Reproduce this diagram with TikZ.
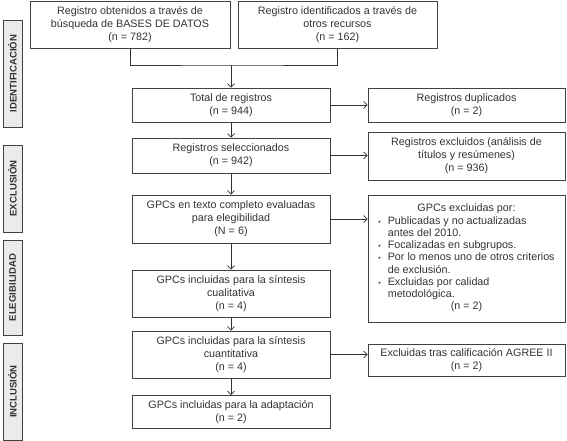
\documentclass[tikz,border=0pt]{standalone}
\usepackage{fontspec}
\setmainfont{Liberation Sans}
\usepackage{tikz}
\usetikzlibrary{arrows.meta}

\begin{document}
\begin{tikzpicture}[x=1bp,y=-1bp,
        caja/.style={draw=black!75, line width=0.7bp, align=center, inner sep=1bp,
            text=black!80, font=\fontsize{10.8}{13}\selectfont, minimum width=198bp},
        fase/.style={draw=black!75, line width=0.7bp, fill=black!8, rotate=90, inner sep=1bp,
            text=black!80, font=\bfseries\fontsize{9.6}{11}\selectfont, minimum height=19bp},
        linea/.style={draw=black!80, line width=0.8bp},
        flecha/.style={linea, -{Straight Barb[length=3.5bp,width=7bp]}}]
        \useasboundingbox (0,0) rectangle (567,441);
        % Phase labels on the left
        \foreach \nom/\txt/\y/\len in {ident/IDENTIFICACIÓN/73.5/107, excl/EXCLUSIÓN/188.5/87,
            eleg/ELEGIBILIDAD/287.5/95, incl/INCLUSIÓN/391.5/97}
            \node[fase, minimum width=\len bp] (fase-\nom) at (12.5,\y) {\txt};
        % Sources
        \node[caja, minimum width=200bp, minimum height=47bp] (bd) at (130,24.5)
            {Registro obtenidos a través de\\búsqueda de BASES DE DATOS\\(n = 782)};
        \node[caja, minimum width=199bp, minimum height=47bp] (otros) at (337.5,24.5)
            {Registro identificados a través de\\otros recursos\\(n = 162)};
        % Main column
        \node[caja, minimum height=34bp] (total) at (231,105) {Total de registros\\(n = 944)};
        \node[caja, minimum height=35bp] (sel) at (231,155.5) {Registros seleccionados\\(n = 942)};
        \node[caja, minimum height=48bp] (texto) at (231,219)
            {GPCs en texto completo evaluadas\\para elegibilidad\\(N = 6)};
        \node[caja, minimum height=47bp] (cuali) at (231,293.5)
            {GPCs incluidas para la síntesis\\cualitativa\\(n = 4)};
        \node[caja, minimum height=47bp] (cuanti) at (231,354.5)
            {GPCs incluidas para la síntesis\\cuantitativa\\(n = 4)};
        \node[caja, minimum height=33bp] (adapt) at (231,412)
            {GPCs incluidas para la adaptación\\(n = 2)};
        % Excluded records on the right
        \node[caja, minimum width=197bp, minimum height=34bp] (dup) at (466.5,105)
            {Registros duplicados\\(n = 2)};
        \node[caja, minimum width=197bp, minimum height=48bp] (excl) at (466.5,156)
            {Registros excluidos (análisis de\\títulos y resúmenes)\\(n = 936)};
        \node[caja, minimum width=197bp, minimum height=127bp,
            font=\fontsize{10.8}{12.3}\selectfont] (gpcexc) at (466.5,258.5) {%
            \begin{tabular}{@{}l@{\hspace{7bp}}l@{}}
            \multicolumn{2}{c}{GPCs excluidas por:}\\
            {\fontsize{7}{8}\selectfont\textbullet} & Publicadas y no actualizadas\\
             & antes del 2010.\\
            {\fontsize{7}{8}\selectfont\textbullet} & Focalizadas en subgrupos.\\
            {\fontsize{7}{8}\selectfont\textbullet} & Por lo menos uno de otros criterios\\
             & de exclusión.\\
            {\fontsize{7}{8}\selectfont\textbullet} & Excluidas por calidad\\
             & metodológica.\\
            \multicolumn{2}{c}{(n = 2)}
            \end{tabular}};
        \node[caja, minimum width=197bp, minimum height=32bp] (agree) at (466.5,360)
            {Excluidas tras calificación AGREE II\\(n = 2)};
        % Join the two sources
        \coordinate (union) at (231,65);
        \draw[linea] (bd.south) |- (union) -| (otros.south);
        \draw[flecha] (union) -- (total);
        % Arrows down the main column
        \foreach \a/\b in {total/sel, sel/texto, texto/cuali, cuali/cuanti, cuanti/adapt}
            \draw[flecha] (\a) -- (\b);
        % Arrows to the exclusions
        \foreach \a/\b in {total/dup, sel/excl, texto/gpcexc, cuanti/agree}
            \draw[flecha] (\a.east) -- (\a.east -| \b.west);
    \end{tikzpicture}
\end{document}
